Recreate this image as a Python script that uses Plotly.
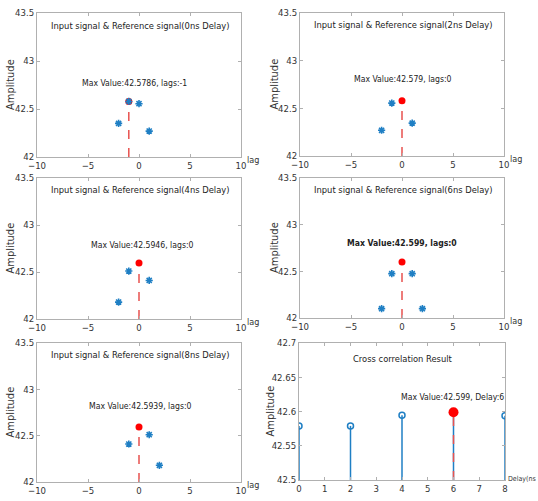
import plotly.graph_objects as go

FONT = "Liberation Sans Narrow, Arial Narrow, DejaVu Sans Condensed, Liberation Sans, Arial"
BLUE = "#1f7fc4"
RED = "#ff0000"

# ---- data ----
titles = ["Input signal & Reference signal(0ns Delay)",
          "Input signal & Reference signal(2ns Delay)",
          "Input signal & Reference signal(4ns Delay)",
          "Input signal & Reference signal(6ns Delay)",
          "Input signal & Reference signal(8ns Delay)"]
lags_list = [[-2, -1, 0, 1],
             [-2, -1, 0, 1],
             [-2, -1, 0, 1],
             [-2, -1, 0, 1, 2],
             [-1, 0, 1, 2]]
vals_list = [[42.35, 42.5786, 42.555, 42.27],
             [42.27, 42.555, 42.579, 42.345],
             [42.18, 42.51, 42.5946, 42.41],
             [42.10, 42.475, 42.599, 42.475, 42.10],
             [42.41, 42.5939, 42.51, 42.18]]
max_lags = [-1, 0, 0, 0, 0]
max_vals = [42.5786, 42.579, 42.5946, 42.599, 42.5939]
max_texts = ["Max Value:42.5786, lags:-1", "Max Value:42.579, lags:0",
             "Max Value:42.5946, lags:0", "<b>Max Value:42.599, lags:0</b>",
             "Max Value:42.5939, lags:0"]
text_x = [-0.4, 0.1, 0.3, 0.0, 0.1]
text_y = [42.77, 42.81, 42.79, 42.80, 42.82]

delays = [0, 2, 4, 6, 8]
corr = [42.579, 42.579, 42.5946, 42.599, 42.5939]
best_delay = 6
best_corr = 42.599

lag_ticks = [-10, -5, 0, 5, 10]
amp_ticks = [42, 42.5, 43, 43.5]
delay_ticks = [0, 1, 2, 3, 4, 5, 6, 7, 8]
corr_ticks = [42.5, 42.55, 42.6, 42.65, 42.7]

W, H = 538, 501
# panel pixel boxes (left, right, top, bottom)
boxes = [(37, 241, 13, 157), (300, 504, 13, 156),
         (37, 241, 178, 319), (300, 504, 178, 318),
         (37, 241, 343, 482), (299, 505, 343, 480)]
ylabel_x = [10, 274, 10, 274, 10, 270]

fig = go.Figure()
layout = {}
annotations = []

def axname(i, a):
    return a if i == 0 else f"{a}{i+1}"

for i, (l, r, t, b) in enumerate(boxes):
    xa = axname(i, "xaxis"); ya = axname(i, "yaxis")
    common = dict(showgrid=False, zeroline=False, showline=True, linecolor="#b0b0b0",
                  linewidth=1, mirror="ticks", ticks="inside", ticklen=3, automargin=False,
                  tickcolor="#b0b0b0", tickfont=dict(family=FONT, size=9.5, color="#333"))
    layout[xa] = dict(domain=[l / W, r / W], **common)
    layout[ya] = dict(domain=[1 - b / H, 1 - t / H], **common)
    layout[xa]["anchor"] = "y" if i == 0 else f"y{i+1}"
    layout[ya]["anchor"] = "x" if i == 0 else f"x{i+1}"
    annotations.append(dict(x=ylabel_x[i] / W, y=1 - (t + b) / 2 / H, xref="paper", yref="paper",
                            text="Amplitude", textangle=-90, showarrow=False,
                            xanchor="center", yanchor="middle",
                            font=dict(family=FONT, size=11, color="#333")))

for i in range(5):
    xr = "x" if i == 0 else f"x{i+1}"
    yr = "y" if i == 0 else f"y{i+1}"
    layout[axname(i, "xaxis")].update(range=[-10, 10], tickvals=lag_ticks)
    layout[axname(i, "yaxis")].update(range=[42, 43.5], tickvals=amp_ticks,
                                      ticktext=[str(v) for v in amp_ticks])
    fig.add_trace(go.Scatter(x=[max_lags[i], max_lags[i]], y=[42, max_vals[i]], mode="lines",
                             line=dict(color="#e8524f", dash="dash", width=1.5),
                             xaxis=xr, yaxis=yr, showlegend=False, hoverinfo="skip"))
    fig.add_trace(go.Scatter(x=[max_lags[i]], y=[max_vals[i]], mode="markers",
                             marker=dict(color=RED, size=7, symbol="circle"),
                             xaxis=xr, yaxis=yr, showlegend=False))
    pts_x = [x for x in lags_list[i] if not (i > 0 and x == max_lags[i])]
    pts_y = [v for x, v in zip(lags_list[i], vals_list[i]) if not (i > 0 and x == max_lags[i])]
    fig.add_trace(go.Scatter(x=pts_x, y=pts_y, mode="markers",
                             marker=dict(symbol="asterisk-open", size=6, color=BLUE,
                                         line=dict(color=BLUE, width=1.6)),
                             xaxis=xr, yaxis=yr, showlegend=False))
    annotations.append(dict(x=0.1, y=43.375, xref=xr, yref=yr, text=titles[i], showarrow=False,
                            font=dict(family=FONT, size=9.3, color="#222")))
    annotations.append(dict(x=text_x[i], y=text_y[i], xref=xr, yref=yr, text=max_texts[i],
                            showarrow=False, font=dict(family=FONT, size=8.6, color="#222")))
    l, r, t, b = boxes[i]
    annotations.append(dict(x=(r + 4) / W, y=1 - (b + 3) / H, xref="paper", yref="paper",
                            text="lag", showarrow=False, xanchor="left", yanchor="middle",
                            font=dict(family=FONT, size=9, color="#333")))

# cross-correlation panel
xr, yr = "x6", "y6"
layout["xaxis6"].update(range=[0, 8], tickvals=delay_ticks)
layout["yaxis6"].update(range=[42.5, 42.7], tickvals=corr_ticks,
                        ticktext=["42.5", "42.55", "42.6", "42.65", "42.7"])
for d, c in zip(delays, corr):
    fig.add_trace(go.Scatter(x=[d, d], y=[42.5, c], mode="lines",
                             line=dict(color=BLUE, width=1.5), xaxis=xr, yaxis=yr,
                             showlegend=False, hoverinfo="skip"))
fig.add_trace(go.Scatter(x=delays, y=corr, mode="markers",
                         marker=dict(symbol="circle-open", size=6, color=BLUE,
                                     line=dict(color=BLUE, width=1.5)),
                         xaxis=xr, yaxis=yr, showlegend=False))
fig.add_trace(go.Scatter(x=[best_delay, best_delay], y=[42.5, best_corr], mode="lines",
                         line=dict(color="#e8524f", dash="dash", width=1.5),
                         xaxis=xr, yaxis=yr, showlegend=False, hoverinfo="skip"))
fig.add_trace(go.Scatter(x=[best_delay], y=[best_corr], mode="markers",
                         marker=dict(color=RED, size=10, symbol="circle"),
                         xaxis=xr, yaxis=yr, showlegend=False))
annotations.append(dict(x=4.05, y=42.678, xref=xr, yref=yr, text="Cross correlation Result",
                        showarrow=False, font=dict(family=FONT, size=9.3, color="#222")))
annotations.append(dict(x=5.95, y=42.621, xref=xr, yref=yr, text="Max Value:42.599, Delay:6",
                        showarrow=False, font=dict(family=FONT, size=8.6, color="#222")))
annotations.append(dict(x=1.0, y=1 - 479 / H, xref="paper", yref="paper",
                        text="Delay(ns", showarrow=False, xanchor="right", yanchor="middle",
                        xshift=0, font=dict(family=FONT, size=7, color="#333")))

fig.update_layout(width=W, height=H, margin=dict(l=0, r=0, t=0, b=0, autoexpand=False),
                  paper_bgcolor="white", plot_bgcolor="white", annotations=annotations,
                  **layout)
fig.write_html("out.html", config={"displayModeBar": False},
               post_script="document.body.style.margin='0';document.body.style.overflow='hidden';")
